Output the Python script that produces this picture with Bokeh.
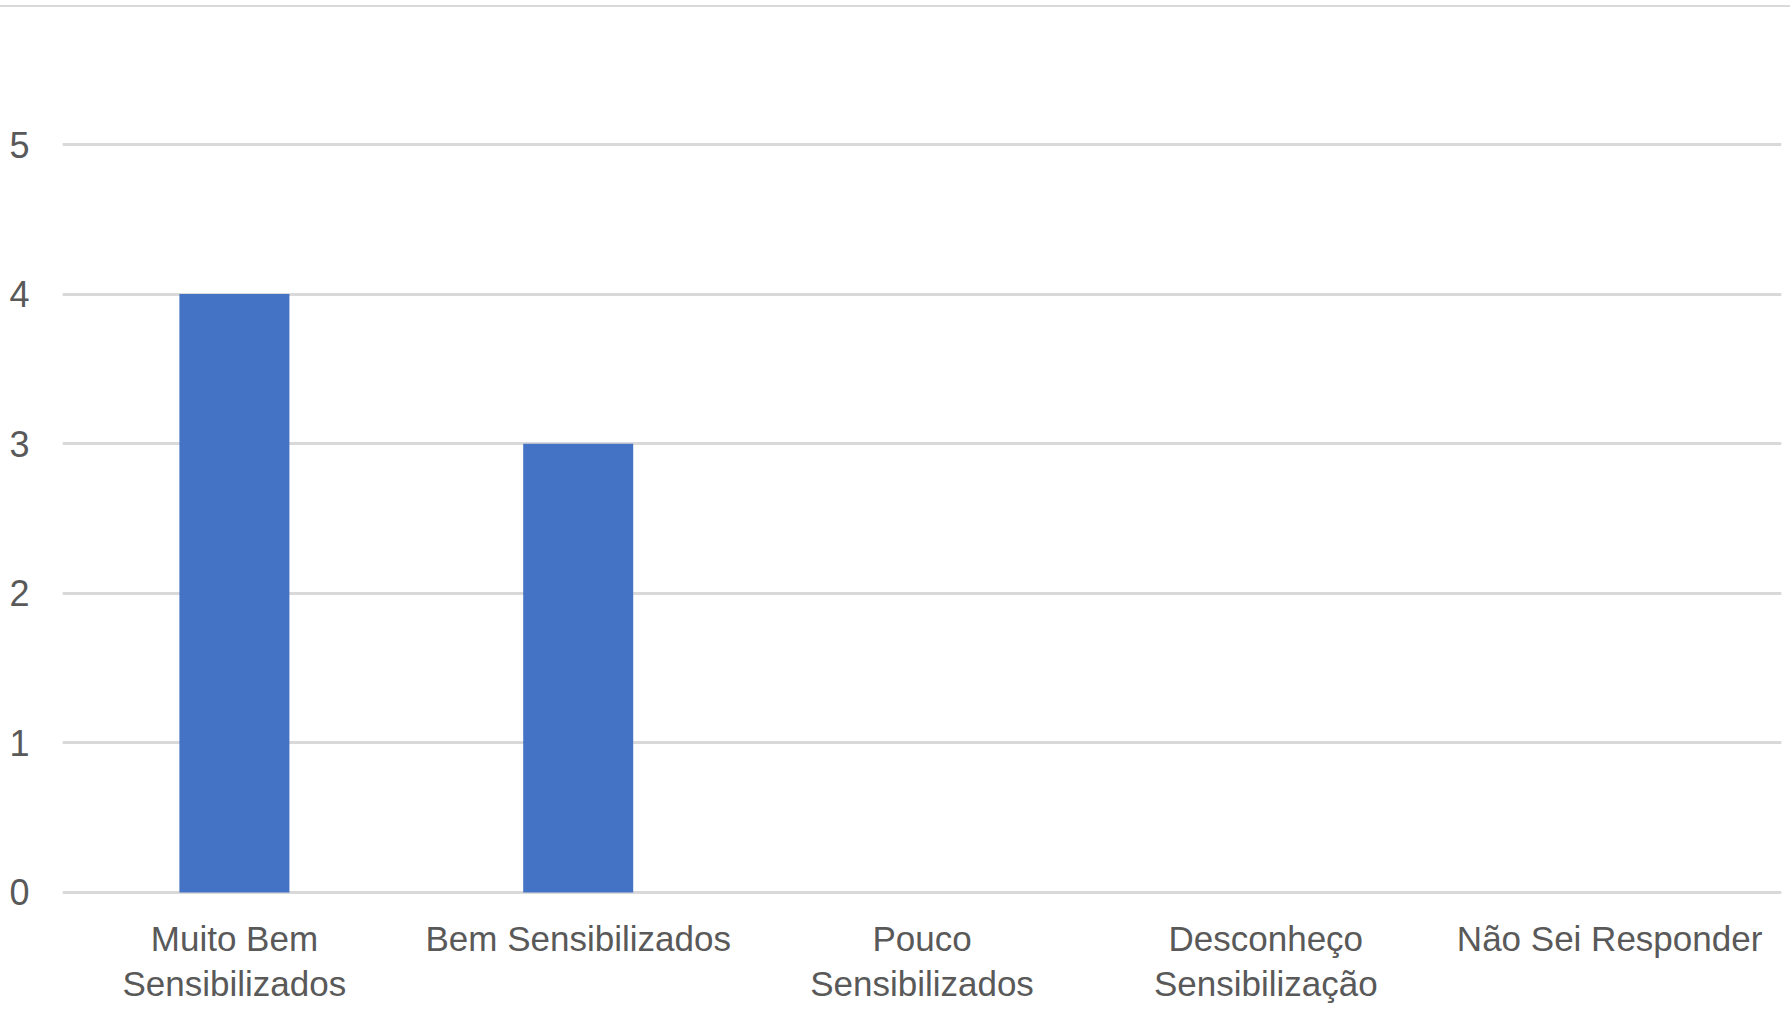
from bokeh.plotting import figure
from bokeh.models import FixedTicker, FactorRange, Range1d, ColumnDataSource
from bokeh.core.properties import value
from bokeh.embed import file_html
from bokeh.resources import INLINE

categories = ["Muito Bem Sensibilizados", "Bem Sensibilizados", "Pouco Sensibilizados",
              "Desconheço Sensibilização", "Não Sei Responder"]
values = [4, 3, 0, 0, 0]
y_ticks = [0, 1, 2, 3, 4, 5]
label_line1 = ["Muito Bem", "Bem Sensibilizados", "Pouco", "Desconheço", "Não Sei Responder"]
label_line2 = ["Sensibilizados", "", "Sensibilizados", "Sensibilização", ""]

FONT = "Liberation Sans"
TXT = "#595959"
GRID = "#d9d9d9"

p = figure(width=1790, height=1003, x_range=FactorRange(factors=categories),
           y_range=Range1d(-0.789, 5.916), output_backend="svg", toolbar_location=None,
           min_border_left=62, min_border_right=9, min_border_top=0, min_border_bottom=0)
p.styles = {"margin-top": "5px", "border-top": f"2px solid {GRID}"}

p.vbar(x=categories, top=values, width=0.32, color="#4472C4", line_color=None)

src = ColumnDataSource(dict(x=categories, y=[0] * len(categories), l1=label_line1, l2=label_line2))
p.text(x="x", y="y", text="l1", source=src, text_align="center", text_baseline="alphabetic",
       y_offset=46, text_font=value(FONT), text_font_size="35px", text_color=TXT)
p.text(x="x", y="y", text="l2", source=src, text_align="center", text_baseline="alphabetic",
       y_offset=91, text_font=value(FONT), text_font_size="35px", text_color=TXT)

p.outline_line_color = None
p.xaxis.visible = False
p.xgrid.grid_line_color = None
p.ygrid.grid_line_color = GRID
p.ygrid.grid_line_width = 3
p.yaxis.ticker = FixedTicker(ticks=y_ticks)
p.yaxis.axis_line_color = None
p.yaxis.major_tick_line_color = None
p.yaxis.minor_tick_line_color = None
p.yaxis.major_tick_out = 0
p.yaxis.major_tick_in = 0
p.yaxis.major_label_standoff = 33
p.yaxis.major_label_text_font = FONT
p.yaxis.major_label_text_font_size = "36px"
p.yaxis.major_label_text_color = TXT

open("out.html", "w").write(file_html(p, INLINE))
